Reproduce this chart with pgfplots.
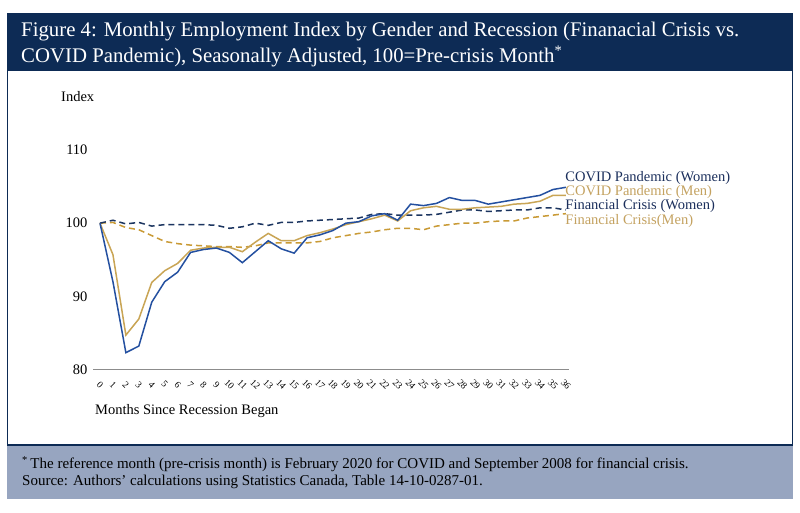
\documentclass[border=0pt]{standalone}
\usepackage{pgfplots}
\pgfplotsset{compat=1.18}
\usepackage{fontspec}
\setmainfont{Liberation Serif}
\definecolor{navy}{HTML}{0D2B55}
\definecolor{cblue}{HTML}{2450A0}
\definecolor{cgold}{HTML}{C9A555}
\definecolor{fnavy}{HTML}{1C3560}
\definecolor{fgold}{HTML}{C99A35}
\definecolor{footbg}{HTML}{97A5C0}
\definecolor{lnavy}{HTML}{1B2F5C}
\definecolor{lgold}{HTML}{C4A260}

\pgfplotstableread{
m cw cm fw fm
0 100.0 100.0 100.0 100.0
1 92.0 95.7 100.4 100.1
2 82.3 84.7 99.9 99.4
3 83.2 86.9 100.1 99.1
4 89.2 91.9 99.6 98.3
5 92.0 93.5 99.8 97.5
6 93.3 94.5 99.8 97.2
7 96.0 96.3 99.8 97.0
8 96.4 96.6 99.8 96.9
9 96.6 96.7 99.7 96.8
10 96.0 96.7 99.3 96.8
11 94.6 96.1 99.5 96.7
12 96.1 97.4 100.0 96.9
13 97.6 98.6 99.7 97.3
14 96.5 97.6 100.1 97.3
15 95.9 97.6 100.1 97.3
16 98.0 98.3 100.3 97.3
17 98.4 98.7 100.4 97.5
18 99.0 99.2 100.5 98.0
19 100.0 99.8 100.6 98.3
20 100.2 100.2 100.7 98.6
21 101.0 100.6 101.2 98.8
22 101.3 101.1 101.3 99.1
23 100.4 100.3 101.1 99.3
24 102.6 101.7 101.1 99.3
25 102.4 102.1 101.1 99.1
26 102.7 102.3 101.2 99.6
27 103.5 101.9 101.5 99.8
28 103.1 101.9 101.8 100.0
29 103.1 102.1 101.8 100.0
30 102.6 102.2 101.6 100.2
31 102.9 102.3 101.7 100.3
32 103.2 102.6 101.8 100.3
33 103.5 102.7 101.8 100.7
34 103.8 103.0 102.1 100.9
35 104.6 103.8 102.1 101.1
36 104.9 103.8 101.8 101.3
}\datatable

\begin{document}
\begin{tikzpicture}[x=1pt,y=1pt]
\fill[white] (0,0) rectangle (800,513);
\fill[navy] (7,443) rectangle (793,500);
\fill[footbg] (7,14) rectangle (793,68);
\draw[navy, line width=1.2pt] (7.6,68) rectangle (792.4,443);
\node[anchor=base west, text=white, font=\fontsize{20.8}{26}\selectfont, inner sep=0] at (21,476) {Figure 4: Monthly Employment Index by Gender and Recession (Finanacial Crisis vs.};
\node[anchor=base west, text=white, font=\fontsize{20.8}{26}\selectfont, inner sep=0] at (21,450) {COVID Pandemic), Seasonally Adjusted, 100=Pre-crisis Month\textsuperscript{*}};
\node[anchor=west, font=\fontsize{14.5}{17}\selectfont, inner sep=0] at (61,416) {Index};
\node[anchor=west, font=\fontsize{14.5}{17}\selectfont, inner sep=0] at (95,102) {Months Since Recession Began};
\node[anchor=base west, font=\fontsize{15}{17}\selectfont, inner sep=0] at (22,44) {\textsuperscript{*}\,The reference month (pre-crisis month) is February 2020 for COVID and September 2008 for financial crisis.};
\node[anchor=base west, font=\fontsize{15}{17}\selectfont, inner sep=0] at (22,27) {Source: Authors' calculations using Statistics Canada, Table 14-10-0287-01.};

\begin{axis}[
  at={(93pt,143.5pt)}, anchor=south west,
  scale only axis, width=476pt, height=219.5pt,
  xmin=-0.54, xmax=36.24, ymin=80, ymax=110,
  axis lines=left,
  axis line style={-},
  y axis line style={draw=none},
  x axis line style={draw=black!45, line width=1.3pt},
  major tick length=0pt,
  xtick={0,...,36}, ytick={80,90,100,110},
  /pgf/number format/assume math mode=true,
  yticklabel style={font=\fontsize{14.5}{17}\selectfont, anchor=east, xshift=-2pt},
  xticklabel style={font=\fontsize{9.5}{10}\selectfont, yshift=-15pt, rotate=-45, anchor=center},
  clip=false,
]
\addplot[fgold, line width=1.5pt, dash pattern=on 6pt off 4pt] table[x=m,y=fm]{\datatable};
\addplot[fnavy, line width=1.5pt, dash pattern=on 6pt off 4pt] table[x=m,y=fw]{\datatable};
\addplot[cgold, line width=1.5pt] table[x=m,y=cm]{\datatable};
\addplot[cblue, line width=1.5pt] table[x=m,y=cw]{\datatable};
\node[anchor=west, inner sep=0, text=lnavy, font=\fontsize{14.5}{17}\selectfont] at (axis cs:35.95,106.2) {COVID Pandemic (Women)};
\node[anchor=west, inner sep=0, text=lgold, font=\fontsize{14.5}{17}\selectfont] at (axis cs:35.95,104.2) {COVID Pandemic (Men)};
\node[anchor=west, inner sep=0, text=lnavy, font=\fontsize{14.5}{17}\selectfont] at (axis cs:35.95,102.3) {Financial Crisis (Women)};
\node[anchor=west, inner sep=0, text=lgold, font=\fontsize{14.5}{17}\selectfont] at (axis cs:35.95,100.3) {Financial Crisis(Men)};
\end{axis}
\end{tikzpicture}
\end{document}
